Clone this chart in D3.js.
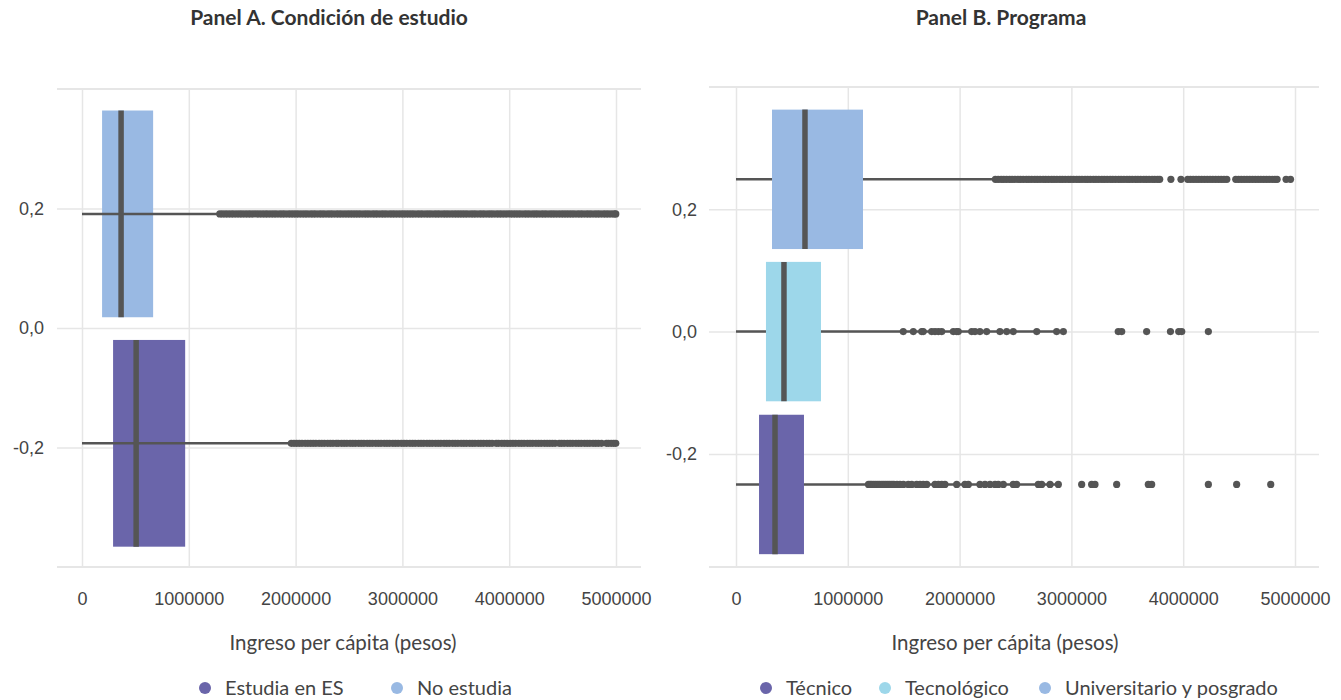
<!DOCTYPE html>
<html>
<head>
<meta charset="utf-8">
<script src="https://cdn.jsdelivr.net/npm/d3@7"></script>
<style>
  html, body { margin: 0; padding: 0; background: #fff; }
  svg { display: block; font-family: Lato, "Noto Sans", sans-serif; }
</style>
</head>
<body>
<svg id="chart" width="1341" height="700"></svg>
<script>
// ---------------- DATA ----------------
// Panel A. Condición de estudio
const catsA = ["Estudia en ES", "No estudia"];
const lowA = [0, 0];
const q1A = [291000, 188000];
const medA = [507000, 366000];
const q3A = [966000, 666000];
const highA = [1951000, 1294000];
const outliersA_ES = [1960000, 1985000, 2010000, 2035000, 2060000, 2090000, 2115000, 2140000, 2165000, 2190000, 2220000, 2245000, 2270000, 2300000, 2325000, 2350000, 2380000, 2400000, 2430000, 2455000, 2480000, 2510000, 2535000, 2560000, 2590000, 2615000, 2640000, 2670000, 2695000, 2720000, 2750000, 2775000, 2800000, 2830000, 2855000, 2880000, 2910000, 2935000, 2960000, 2990000, 3015000, 3040000, 3070000, 3095000, 3120000, 3150000, 3175000, 3200000, 3230000, 3255000, 3280000, 3310000, 3335000, 3360000, 3390000, 3415000, 3440000, 3470000, 3495000, 3520000, 3550000, 3575000, 3600000, 3630000, 3655000, 3680000, 3710000, 3735000, 3760000, 3790000, 3815000, 3840000, 3878000, 3900000, 3930000, 3955000, 3980000, 4010000, 4035000, 4060000, 4090000, 4115000, 4140000, 4170000, 4195000, 4220000, 4250000, 4275000, 4300000, 4330000, 4355000, 4380000, 4405000, 4430000, 4468000, 4490000, 4515000, 4545000, 4570000, 4595000, 4625000, 4650000, 4675000, 4705000, 4730000, 4755000, 4785000, 4810000, 4835000, 4865000, 4910000, 4930000, 4955000, 4978000, 4998000];
const outliersA_NO = [1290000, 1315000, 1342000, 1368000, 1395000, 1420000, 1448000, 1475000, 1500000, 1528000, 1555000, 1580000, 1607000, 1634000, 1660000, 1688000, 1715000, 1740000, 1768000, 1795000, 1820000, 1850000, 1875000, 1900000, 1930000, 1955000, 1980000, 2005000, 2030000, 2058000, 2085000, 2110000, 2140000, 2165000, 2190000, 2220000, 2245000, 2270000, 2300000, 2325000, 2350000, 2380000, 2405000, 2430000, 2458000, 2485000, 2510000, 2535000, 2560000, 2585000, 2610000, 2640000, 2665000, 2690000, 2720000, 2745000, 2770000, 2800000, 2825000, 2850000, 2880000, 2905000, 2930000, 2958000, 2985000, 3010000, 3035000, 3060000, 3085000, 3110000, 3140000, 3165000, 3190000, 3220000, 3245000, 3270000, 3300000, 3325000, 3350000, 3380000, 3405000, 3430000, 3458000, 3485000, 3510000, 3535000, 3560000, 3585000, 3610000, 3640000, 3665000, 3690000, 3720000, 3745000, 3770000, 3800000, 3825000, 3850000, 3880000, 3905000, 3930000, 3958000, 3985000, 4010000, 4035000, 4060000, 4085000, 4110000, 4140000, 4165000, 4190000, 4220000, 4245000, 4270000, 4300000, 4325000, 4350000, 4380000, 4405000, 4430000, 4458000, 4485000, 4510000, 4535000, 4560000, 4585000, 4610000, 4640000, 4665000, 4690000, 4720000, 4745000, 4770000, 4800000, 4825000, 4850000, 4880000, 4905000, 4930000, 4958000, 4985000, 4998000];

// Panel B. Programa
const catsB = ["Técnico", "Tecnológico", "Universitario y posgrado"];
const lowB = [0, 0, 0];
const q1B = [206000, 268000, 322000];
const medB = [349000, 429000, 617000];
const q3B = [608000, 760000, 1136000];
const highB = [2883000, 2928000, 2320000];
const outliersB_TEC = [1185000, 1200000, 1215000, 1232000, 1250000, 1268000, 1285000, 1305000, 1322000, 1340000, 1358000, 1375000, 1395000, 1412000, 1440000, 1467000, 1497000, 1541000, 1572000, 1616000, 1646000, 1675000, 1706000, 1780000, 1810000, 1840000, 1869000, 1974000, 2048000, 2078000, 2182000, 2227000, 2272000, 2317000, 2346000, 2391000, 2480000, 2510000, 2704000, 2734000, 2809000, 2883000, 3092000, 3181000, 3211000, 3405000, 3688000, 3718000, 4225000, 4478000, 4783000];
const outliersB_TGO = [1496000, 1586000, 1661000, 1675000, 1750000, 1780000, 1810000, 1840000, 1944000, 1974000, 1988000, 2108000, 2138000, 2182000, 2242000, 2361000, 2421000, 2480000, 2690000, 2868000, 2928000, 3419000, 3450000, 3673000, 3886000, 3960000, 3987000, 4225000];
const outliersB_UNI = [2320000, 2345000, 2372000, 2395000, 2420000, 2447000, 2470000, 2495000, 2522000, 2545000, 2570000, 2597000, 2620000, 2645000, 2672000, 2695000, 2720000, 2747000, 2770000, 2795000, 2822000, 2845000, 2870000, 2897000, 2920000, 2945000, 2972000, 2995000, 3020000, 3047000, 3070000, 3095000, 3122000, 3145000, 3170000, 3197000, 3220000, 3245000, 3272000, 3295000, 3320000, 3347000, 3370000, 3395000, 3422000, 3445000, 3470000, 3497000, 3520000, 3545000, 3572000, 3595000, 3620000, 3647000, 3670000, 3695000, 3722000, 3745000, 3770000, 3790000, 3890000, 3980000, 4040000, 4065000, 4090000, 4115000, 4140000, 4165000, 4190000, 4215000, 4240000, 4265000, 4290000, 4315000, 4340000, 4365000, 4390000, 4470000, 4495000, 4520000, 4545000, 4570000, 4595000, 4620000, 4645000, 4670000, 4695000, 4720000, 4745000, 4770000, 4795000, 4820000, 4840000, 4920000, 4960000];

const xTicks = [0, 1000000, 2000000, 3000000, 4000000, 5000000];
const yTicks = [-0.2, 0, 0.2];
const titles = ["Panel A. Condición de estudio", "Panel B. Programa"];
const xTitle = "Ingreso per cápita (pesos)";

// ---------------- STYLE / LAYOUT ----------------
const colPurple = "#6a65aa", colBlue = "#99b9e3", colCyan = "#9dd7ea";
const ink = "#555555", grid = "#e6e6e6", textCol = "#444444";

const locale = d3.formatLocale({decimal: ",", thousands: ".", grouping: [3], currency: ["$", ""], minus: "-"});
const fmtY = locale.format(".1f");
const fmtX = d3.format("d");

const svg = d3.select("#chart");

function drawPanel(cfg) {
  const g = svg.append("g");
  const x = d3.scaleLinear().domain([0, 5000000]).range([cfg.x0, cfg.x5]);
  const y = d3.scaleLinear().domain(cfg.yDomain).range([cfg.bottom, cfg.top]);

  // horizontal grid + y tick labels
  const yAxis = d3.axisLeft(y).tickValues(yTicks).tickFormat(fmtY)
    .tickSizeInner(0).tickSizeOuter(0).tickPadding(cfg.yPad);
  const ya = g.append("g").attr("transform", `translate(${cfg.left},0)`).call(yAxis);
  ya.select(".domain").remove();
  ya.selectAll(".tick line").attr("x1", 0).attr("x2", cfg.right - cfg.left)
    .attr("stroke", grid).attr("stroke-width", 1.5);
  ya.selectAll(".tick text").attr("fill", textCol).style("font-size", "18px");

  // vertical grid + x tick labels
  const xAxis = d3.axisBottom(x).tickValues(xTicks).tickFormat(fmtX)
    .tickSizeInner(-(cfg.bottom - cfg.top)).tickSizeOuter(0).tickPadding(25);
  const xa = g.append("g").attr("transform", `translate(0,${cfg.bottom})`).call(xAxis);
  xa.select(".domain").remove();
  xa.selectAll(".tick line").attr("stroke", grid).attr("stroke-width", 1.5);
  xa.selectAll(".tick text").attr("fill", textCol).style("font-size", "18px");

  // top & bottom frame lines
  g.append("line").attr("x1", cfg.left).attr("x2", cfg.right).attr("y1", cfg.top).attr("y2", cfg.top)
    .attr("stroke", grid).attr("stroke-width", 2);
  g.append("line").attr("x1", cfg.left).attr("x2", cfg.right).attr("y1", cfg.bottom).attr("y2", cfg.bottom)
    .attr("stroke", grid).attr("stroke-width", 2);

  // boxes
  cfg.cats.forEach((c, i) => {
    const cy = y(cfg.pos[i]);
    const top = y(cfg.pos[i] + cfg.half), bot = y(cfg.pos[i] - cfg.half);
    const bg = g.append("g");
    const whisker = () => bg.append("line")
      .attr("x1", x(cfg.low[i])).attr("x2", x(cfg.high[i]))
      .attr("y1", cy).attr("y2", cy).attr("stroke", ink).attr("stroke-width", 2.5);
    if (!cfg.whiskerOver) whisker();
    bg.append("rect").attr("x", x(cfg.q1[i])).attr("width", x(cfg.q3[i]) - x(cfg.q1[i]))
      .attr("y", top).attr("height", bot - top).attr("fill", cfg.colors[i]);
    if (cfg.whiskerOver) whisker();
    bg.append("line").attr("x1", x(cfg.med[i])).attr("x2", x(cfg.med[i]))
      .attr("y1", top).attr("y2", bot)
      .attr("stroke", ink).attr("stroke-width", 5.5);
    bg.selectAll("circle").data(cfg.outliers[i]).join("circle")
      .attr("cx", d => x(d)).attr("cy", cy).attr("r", 3.6).attr("fill", ink);
  });

  // titles
  svg.append("text").attr("x", cfg.titleX).attr("y", 25).attr("text-anchor", "middle")
    .attr("fill", "#333").style("font-size", "21px").style("font-weight", "bold").text(cfg.title);
  svg.append("text").attr("x", cfg.xTitleX).attr("y", 650).attr("text-anchor", "middle")
    .attr("fill", textCol).style("font-size", "20.5px").text(xTitle);

  // legend
  const lg = svg.append("g");
  cfg.cats.forEach((c, i) => {
    lg.append("circle").attr("cx", cfg.legendX[i]).attr("cy", 688).attr("r", 6).attr("fill", cfg.colors[i]);
    lg.append("text").attr("x", cfg.legendX[i] + 20).attr("y", 695).attr("fill", textCol)
      .style("font-size", "20px").text(c);
  });
}

drawPanel({
  title: titles[0], titleX: 329, xTitleX: 343,
  x0: 82, x5: 616, left: 57, right: 641, top: 89, bottom: 567,
  yDomain: [-0.4, 0.4], yPad: 13,
  cats: catsA, pos: [-0.193, 0.191], half: 0.173,
  low: lowA, q1: q1A, med: medA, q3: q3A, high: highA,
  outliers: [outliersA_ES, outliersA_NO],
  colors: [colPurple, colBlue], whiskerOver: true,
  legendX: [205, 397]
});

drawPanel({
  title: titles[1], titleX: 1001, xTitleX: 1005,
  x0: 736, x5: 1295, left: 709, right: 1319, top: 87, bottom: 567,
  yDomain: [-0.385, 0.4], yPad: 12,
  cats: catsB, pos: [-0.25, 0, 0.249], half: 0.114,
  low: lowB, q1: q1B, med: medB, q3: q3B, high: highB,
  outliers: [outliersB_TEC, outliersB_TGO, outliersB_UNI],
  colors: [colPurple, colCyan, colBlue], whiskerOver: false,
  legendX: [766, 885, 1045]
});
</script>
</body>
</html>
